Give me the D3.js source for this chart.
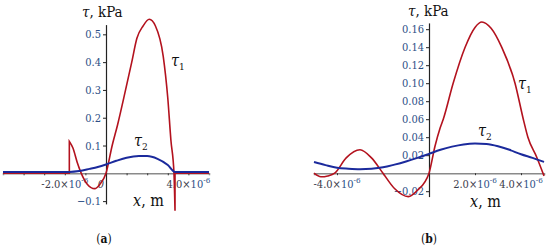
<!DOCTYPE html>
<html>
<head>
<meta charset="utf-8">
<script src="https://cdn.jsdelivr.net/npm/d3@7.9.0/dist/d3.min.js"></script>
<style>
  html, body { margin: 0; padding: 0; background: #fff; }
  svg { display: block; }
  text { font-stretch: condensed; }
</style>
</head>
<body>
<svg id="chart" width="550" height="250"></svg>
<script>
/* =========================
   DATA  (x in units of 10^-6 m, tau in kPa)
========================= */
// panel (a)
const xA_tau1 = [-5, -1.78, -1.78, -1.6, -1.4, -1.2, -0.9, -0.55, -0.3, 0, 0.3, 0.56, 0.95, 1.25, 1.5, 1.8, 2.1, 2.4, 2.78, 3.0, 3.15, 3.3, 3.35, 3.35, 5];
const yA_tau1 = [0, 0, 0.115, 0.09, 0.04, 0.0, -0.04, -0.055, -0.04, 0.0, 0.1, 0.174, 0.3, 0.4, 0.486, 0.53, 0.554, 0.53, 0.42, 0.27, 0.12, 0.0, -0.135, 0, 0];
const xA_tau2 = [-5, -1.78, -1.3, -0.8, -0.4, 0, 0.5, 1.0, 1.6, 2.0, 2.5, 3.0, 3.35, 5];
const yA_tau2 = [0.005, 0.005, 0.008, 0.016, 0.023, 0.032, 0.045, 0.056, 0.062, 0.062, 0.052, 0.03, 0.005, 0.005];
const yTicksA = [-0.1, 0.1, 0.2, 0.3, 0.4, 0.5];
const xTicksA = [-4, -3, -2, -1, 1, 2, 3, 4];
const xLabelsA = [-2, 4];

// panel (b)
const xB_tau1 = [-5, -4.7, -4.4, -4.1, -3.6, -3, -2.5, -2, -1.5, -0.9, -0.5, 0, 0.26, 0.48, 0.62, 1.05, 1.57, 2.0, 2.3, 2.7, 3.16, 3.74, 4.1, 4.3, 4.68, 5];
const yB_tau1 = [0, -0.004, -0.003, 0, 0.017, 0.026, 0.017, 0, -0.017, -0.026, -0.019, 0, 0.03, 0.05, 0.06, 0.10, 0.14, 0.162, 0.168, 0.161, 0.14, 0.10, 0.06, 0.04, 0.018, -0.003];
const xB_tau2 = [-5, -4.5, -4, -3.5, -3, -2.5, -2, -1.5, -1, -0.5, 0, 0.5, 1, 1.5, 2, 2.5, 3, 3.5, 4, 4.5, 5];
const yB_tau2 = [0.0125, 0.009, 0.006, 0.005, 0.0045, 0.005, 0.0065, 0.0095, 0.013, 0.017, 0.0215, 0.026, 0.0295, 0.032, 0.033, 0.0325, 0.03, 0.026, 0.021, 0.017, 0.0125];
const yTicksB = [-0.02, 0.02, 0.04, 0.06, 0.08, 0.10, 0.12, 0.14, 0.16];
const xTicksB = [-4, -2, 2, 4];
const xLabelsB = [-4, 2, 4];

const RED = '#b3121e';
const BLUE = '#1b2a9c';
const LABEL = '#2c4f86';
const FONT = 'DejaVu Serif Condensed, DejaVu Serif';

const svg = d3.select('#chart');

/* split a series at vertical jumps, smooth each piece, join with straight lines */
function jumpPath(pts, x, y) {
  const pieces = [[pts[0]]];
  for (let i = 1; i < pts.length; i++) {
    if (pts[i][0] === pts[i - 1][0]) pieces.push([pts[i]]);
    else pieces[pieces.length - 1].push(pts[i]);
  }
  const line = d3.line().x(d => x(d[0])).y(d => y(d[1])).curve(d3.curveMonotoneX);
  return pieces.map((p, i) => {
    const d = line(p);
    return i === 0 ? d : 'L' + d.slice(1);
  }).join('');
}

/* =========================
   PANEL
========================= */
function drawPanel(cfg) {
  const g = svg.append('g');
  const x = d3.scaleLinear().domain([-5, 5]).range(cfg.xRange);
  const y = d3.scaleLinear().domain(cfg.yDomain).range(cfg.yRange);

  // x axis (gray line through zero)
  const xa = g.append('g')
    .attr('transform', `translate(0,${y(0)})`)
    .call(d3.axisBottom(x).tickValues(cfg.xTicks).tickSize(2).tickFormat(''));
  xa.select('.domain').attr('stroke', '#8a8a8a').attr('stroke-width', 1.5);
  xa.selectAll('.tick line').attr('stroke', '#333');

  // y axis
  const ya = g.append('g')
    .attr('transform', `translate(${x(0)},0)`)
    .call(d3.axisLeft(y).tickValues(cfg.yTicks).tickSize(3).tickSizeOuter(0).tickFormat(''));
  ya.select('.domain').attr('stroke', '#222').attr('stroke-width', 1.2);
  ya.selectAll('.tick line').attr('stroke', '#222');

  // y tick labels
  g.selectAll('.ylab').data(cfg.yTicks).join('text')
    .attr('class', 'ylab')
    .attr('x', x(0) - 5)
    .attr('y', d => y(d) + 4)
    .attr('text-anchor', 'end')
    .attr('font-family', FONT)
    .attr('font-size', 11)
    .attr('fill', LABEL)
    .text(d => cfg.yFmt(d));

  // x tick labels with superscript
  const xl = g.selectAll('.xlab').data(cfg.xLabels).join('text')
    .attr('class', 'xlab')
    .attr('x', d => x(d))
    .attr('y', cfg.xLabY)
    .attr('text-anchor', 'middle')
    .attr('font-family', FONT)
    .attr('font-size', 11)
    .attr('fill', '#3b3b4a');
  xl.append('tspan').text(d => d3.format('.1f')(d).replace('−', '-') + '×');
  xl.append('tspan').attr('fill', LABEL).text('10');
  xl.append('tspan').attr('dy', -5).attr('font-size', 8).attr('fill', LABEL).text('-6');

  if (cfg.zeroLabel) {
    g.append('text')
      .attr('x', x(0) - 2).attr('y', cfg.xLabY)
      .attr('text-anchor', 'end').attr('font-size', 11).attr('font-family', FONT)
      .attr('font-style', 'italic').attr('fill', '#3b3b4a').text('0');
  }

  // curves
  g.append('path')
    .attr('d', jumpPath(d3.zip(cfg.x1, cfg.y1), x, y))
    .attr('fill', 'none').attr('stroke', RED).attr('stroke-width', 1.6);

  g.append('path')
    .attr('d', jumpPath(d3.zip(cfg.x2, cfg.y2), x, y))
    .attr('fill', 'none').attr('stroke', BLUE).attr('stroke-width', 2);

  // titles
  const t = g.append('text').attr('x', cfg.title[0]).attr('y', cfg.title[1])
    .attr('font-family', FONT).attr('font-size', 15).attr('fill', '#111');
  t.append('tspan').attr('font-style', 'italic').text('τ');
  t.append('tspan').text(', kPa');

  const xt = g.append('text').attr('x', cfg.xTitle[0]).attr('y', cfg.xTitle[1])
    .attr('font-family', FONT).attr('font-size', 16).attr('fill', '#111');
  xt.append('tspan').attr('font-style', 'italic').text('x');
  xt.append('tspan').text(', m');

  [[cfg.tau1, '1'], [cfg.tau2, '2']].forEach(([p, s]) => {
    const tt = g.append('text').attr('x', p[0]).attr('y', p[1])
      .attr('font-family', FONT).attr('font-size', 16).attr('fill', '#111');
    tt.append('tspan').attr('font-style', 'italic').text('τ');
    tt.append('tspan').attr('dy', 4).attr('font-size', 10).text(s);
  });

  const pl = g.append('text').attr('x', cfg.panel[0]).attr('y', cfg.panel[1])
    .attr('text-anchor', 'middle').attr('font-family', FONT).attr('font-size', 12).attr('fill', '#111');
  pl.append('tspan').text('(');
  pl.append('tspan').attr('font-weight', 'bold').text(cfg.letter);
  pl.append('tspan').text(')');
}

drawPanel({
  xRange: [3, 209], yDomain: [-0.11, 0.535], yRange: [203.9, 24.6],
  x1: xA_tau1, y1: yA_tau1, x2: xA_tau2, y2: yA_tau2,
  xTicks: xTicksA, yTicks: yTicksA, xLabels: xLabelsA, xLabY: 188,
  yFmt: d3.format('.1f'), zeroLabel: true,
  title: [82, 17], xTitle: [133, 206], tau1: [171, 66], tau2: [134, 146],
  panel: [104, 243], letter: 'a'
});

drawPanel({
  xRange: [314, 544], yDomain: [-0.026, 0.167], yRange: [196.6, 22.9],
  x1: xB_tau1, y1: yB_tau1, x2: xB_tau2, y2: yB_tau2,
  xTicks: xTicksB, yTicks: yTicksB, xLabels: xLabelsB, xLabY: 188,
  yFmt: d3.format('.2f'), zeroLabel: false,
  title: [408, 16], xTitle: [470, 207], tau1: [518, 89], tau2: [478, 136],
  panel: [429, 243], letter: 'b'
});
</script>
</body>
</html>
